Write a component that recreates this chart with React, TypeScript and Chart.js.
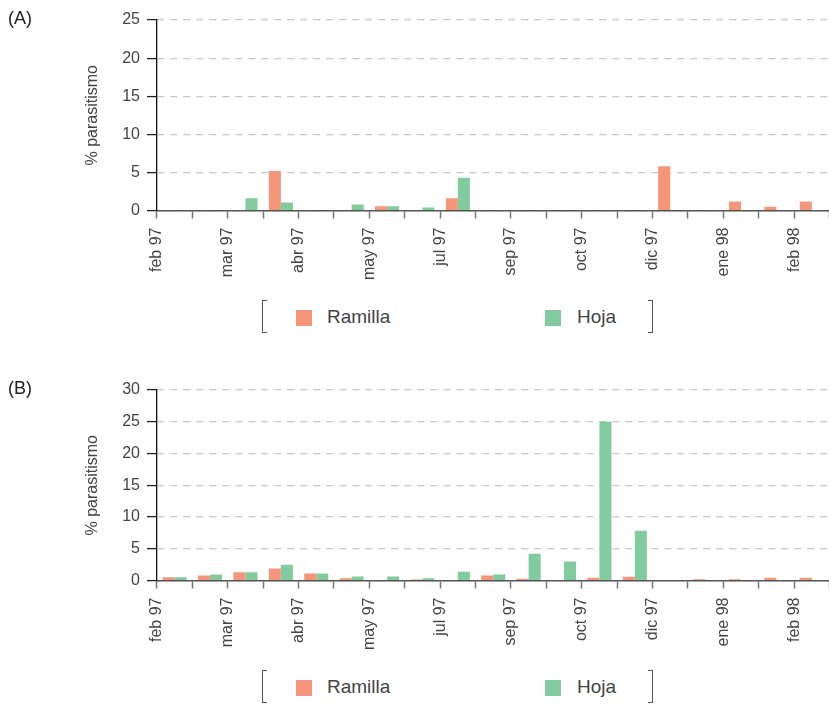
import React, { useEffect, useRef } from 'react';
import { Chart, registerables } from 'chart.js';
Chart.register(...registerables);

const monthLabels = ['feb 97', 'mar 97', 'abr 97', 'may 97', 'jul 97', 'sep 97', 'oct 97', 'dic 97', 'ene 98', 'feb 98'];
const sampleCount = 19;
const seriesNames = ['Ramilla', 'Hoja'];
const ramillaA = [0, 0, 0, 5.2, 0, 0, 0.55, 0, 1.6, 0, 0, 0, 0, 0, 5.8, 0, 1.2, 0.5, 1.2];
const hojaA = [0, 0, 1.6, 1.05, 0, 0.8, 0.55, 0.4, 4.3, 0, 0, 0, 0, 0, 0, 0, 0, 0, 0];
const ramillaB = [0.5, 0.8, 1.3, 1.9, 1.1, 0.35, 0, 0.15, 0, 0.8, 0.3, 0, 0.45, 0.6, 0, 0.2, 0.2, 0.45, 0.45];
const hojaB = [0.5, 0.95, 1.3, 2.5, 1.1, 0.65, 0.65, 0.35, 1.4, 0.95, 4.2, 3.0, 25.0, 7.85, 0, 0, 0, 0, 0];
const yMaxA = 25;
const yMaxB = 30;
const yStep = 5;

const ORANGE = 'rgb(245,150,122)';
const GREEN = 'rgb(130,203,158)';
const FONT = '"Liberation Sans", Arial, sans-serif';

const categoryLabels = Array.from({ length: sampleCount }, (_, i) => (i % 2 === 0 ? monthLabels[i / 2] ?? '' : ''));

function Panel({ ramilla, hoja, yMax }: { ramilla: number[]; hoja: number[]; yMax: number }) {
  const ref = useRef<HTMLCanvasElement | null>(null);
  useEffect(() => {
    if (!ref.current) return;
    const chart = new Chart(ref.current, {
      type: 'bar',
      data: {
        labels: categoryLabels,
        datasets: [
          { label: seriesNames[0], data: ramilla, backgroundColor: ORANGE, borderWidth: 0 },
          { label: seriesNames[1], data: hoja, backgroundColor: GREEN, borderWidth: 0 },
        ],
      },
      options: {
        animation: false,
        responsive: false,
        devicePixelRatio: 1,
        layout: { padding: { left: 57, right: 0, top: 20, bottom: 11 } },
        plugins: { legend: { display: false }, tooltip: { enabled: false } },
        datasets: { bar: { barPercentage: 1, categoryPercentage: 0.68 } },
        scales: {
          x: {
            type: 'category',
            offset: true,
            grid: {
              display: true,
              offset: true,
              drawOnChartArea: false,
              drawTicks: true,
              tickLength: 8,
              tickColor: '#777',
              tickWidth: 1.5,
            },
            border: { color: '#555', width: 1.5 },
            ticks: {
              autoSkip: false,
              maxRotation: 90,
              minRotation: 90,
              labelOffset: -17.7,
              padding: 9,
              color: '#444',
              font: { family: FONT, size: 16 },
            },
          },
          y: {
            min: 0,
            max: yMax,
            ticks: { stepSize: yStep, color: '#444', padding: 7, font: { family: FONT, size: 16 } },
            grid: {
              color: '#c8c8c8',
              lineWidth: 1.2,
              drawTicks: true,
              tickLength: 10,
              tickColor: '#222',
              tickWidth: 1.3,
              tickBorderDash: [],
            },
            border: { color: '#111', width: 1.3, dash: [7, 6] },
            title: {
              display: true,
              text: '% parasitismo',
              color: '#444',
              font: { family: FONT, size: 16 },
              padding: { top: 26, bottom: 13 },
            },
          },
        },
      },
    });
    return () => chart.destroy();
  }, [ramilla, hoja, yMax]);
  return <canvas ref={ref} width={840} height={300} style={{ display: 'block' }} />;
}

function Legend() {
  const sq = (c: string) => ({ width: 16, height: 16, background: c, position: 'absolute' as const, top: 10 });
  const txt = { position: 'absolute' as const, top: 5, fontFamily: FONT, fontSize: 19, color: '#444', lineHeight: '24px' };
  return (
    <div style={{ position: 'relative', width: 829, height: 36 }}>
      <div style={{ position: 'absolute', left: 262, top: 0, width: 5, height: 33, borderLeft: '1.5px solid #555', borderTop: '1.5px solid #555', borderBottom: '1.5px solid #555', boxSizing: 'border-box' }} />
      <div style={{ ...sq(ORANGE), left: 296 }} />
      <div style={{ ...txt, left: 327 }}>{seriesNames[0]}</div>
      <div style={{ ...sq(GREEN), left: 545 }} />
      <div style={{ ...txt, left: 577 }}>{seriesNames[1]}</div>
      <div style={{ position: 'absolute', left: 648, top: 0, width: 5, height: 33, borderRight: '1.5px solid #555', borderTop: '1.5px solid #555', borderBottom: '1.5px solid #555', boxSizing: 'border-box' }} />
    </div>
  );
}

function Section({ letter, ramilla, hoja, yMax, top }: { letter: string; ramilla: number[]; hoja: number[]; yMax: number; top: number }) {
  return (
    <div style={{ position: 'absolute', left: 0, top, width: 829, height: 336, overflow: 'hidden' }}>
      <Panel ramilla={ramilla} hoja={hoja} yMax={yMax} />
      <div style={{ position: 'absolute', left: 8, top: 8, fontFamily: FONT, fontSize: 18, color: '#222' }}>{letter}</div>
      <div style={{ position: 'absolute', left: 0, top: 300 }}>
        <Legend />
      </div>
    </div>
  );
}

export default function App() {
  return (
    <div style={{ position: 'absolute', left: 0, top: 0, width: 829, height: 706, background: '#fff', overflow: 'hidden' }}>
      <Section letter="(A)" ramilla={ramillaA} hoja={hojaA} yMax={yMaxA} top={0} />
      <Section letter="(B)" ramilla={ramillaB} hoja={hojaB} yMax={yMaxB} top={370} />
    </div>
  );
}
